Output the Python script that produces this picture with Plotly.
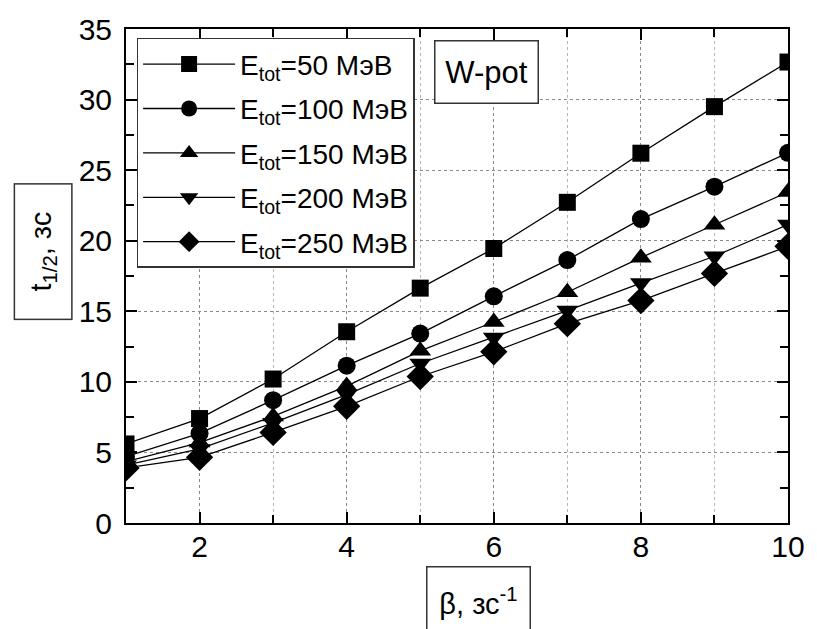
import plotly.graph_objects as go

# Half-life t_1/2 versus beta for several total energies (W-pot)
beta = [1, 2, 3, 4, 5, 6, 7, 8, 9, 10]

t_e50 = [5.6, 7.4, 10.2, 13.55, 16.64, 19.45, 22.72, 26.2, 29.5, 32.66]
t_e100 = [4.7, 6.35, 8.7, 11.15, 13.42, 16.06, 18.63, 21.53, 23.83, 26.23]
t_e150 = [4.35, 5.7, 7.55, 9.7, 12.2, 14.24, 16.35, 18.8, 21.13, 23.45]
t_e200 = [4.1, 5.25, 7.1, 9.1, 11.3, 13.15, 15.05, 17.0, 18.9, 21.15]
t_e250 = [3.9, 4.65, 6.42, 8.27, 10.38, 12.13, 14.12, 15.76, 17.68, 19.6]

energies = ["50", "100", "150", "200", "250"]
series = [t_e50, t_e100, t_e150, t_e200, t_e250]
symbols = ["square", "circle", "triangle-up", "triangle-down", "diamond"]
marker_sizes = [17, 18, 19, 19, 21]

FONT = "Arial"

fig = go.Figure()
for e, ys, sym, ms in zip(energies, series, symbols, marker_sizes):
    fig.add_trace(go.Scatter(
        x=beta, y=ys, mode="lines+markers",
        name=f"E<sub>tot</sub>=" + e + " МэВ",
        legendgroup=e,
        line=dict(color="black", width=1.3),
        marker=dict(symbol=sym, size=ms, color="black"),
    ))

axis_common = dict(
    showline=True, linecolor="black", linewidth=2, mirror="allticks",
    ticks="inside", ticklen=11, tickwidth=1.5, tickcolor="black",
    tickfont=dict(family=FONT, size=30, color="black"),
    showgrid=True, gridcolor="#8a8a8a", griddash="dot", gridwidth=1,
    zeroline=False,
)

fig.update_xaxes(
    range=[1, 10], tick0=0, dtick=2, **axis_common,
    minor=dict(dtick=1, ticks="inside", ticklen=8, tickcolor="black",
               showgrid=True, gridcolor="#b5b5b5", griddash="dot", gridwidth=1),
    ticklabelstandoff=-4,
)
fig.update_yaxes(
    range=[0, 35], tick0=0, dtick=5, **axis_common,
    minor=dict(dtick=2.5, ticks="inside", ticklen=8, tickcolor="black",
               showgrid=False),
    ticklabelstandoff=6,
)

fig.update_layout(
    width=817, height=629,
    margin=dict(l=126, r=18, t=24, b=106),
    plot_bgcolor="white", paper_bgcolor="white",
    font=dict(family=FONT, color="black"),
    legend=dict(
        x=0.016, y=0.982, xanchor="left", yanchor="top",
        bgcolor="white", bordercolor="#333", borderwidth=1.5,
        font=dict(family=FONT, size=28, color="black"),
        itemwidth=92, tracegroupgap=5,
    ),
    showlegend=True,
    annotations=[
        dict(text="W-pot", xref="paper", yref="paper",
             x=(492 - 126) / 673, y=(523 - 67.5) / 499,
             xanchor="center", yanchor="middle", showarrow=False,
             font=dict(family=FONT, size=31, color="black"),
             width=100, height=59, bordercolor="#333", borderwidth=1.5,
             bgcolor="white"),
        dict(text="t<sub>1/2</sub>, зс", xref="paper", yref="paper",
             x=(42 - 126) / 673, y=(523 - 249) / 499,
             xanchor="center", yanchor="middle", showarrow=False,
             textangle=-90,
             font=dict(family=FONT, size=29, color="black"),
             width=132, height=54, bordercolor="#333", borderwidth=1.5),
        dict(text="β, зс<sup>-1</sup>", xref="paper", yref="paper",
             x=(484 - 126) / 673, y=(523 - 602) / 499,
             xanchor="center", yanchor="middle", showarrow=False,
             font=dict(family=FONT, size=29, color="black"),
             width=100, height=66, bordercolor="#333", borderwidth=1.5),
    ],
)

fig.write_html("out.html")
